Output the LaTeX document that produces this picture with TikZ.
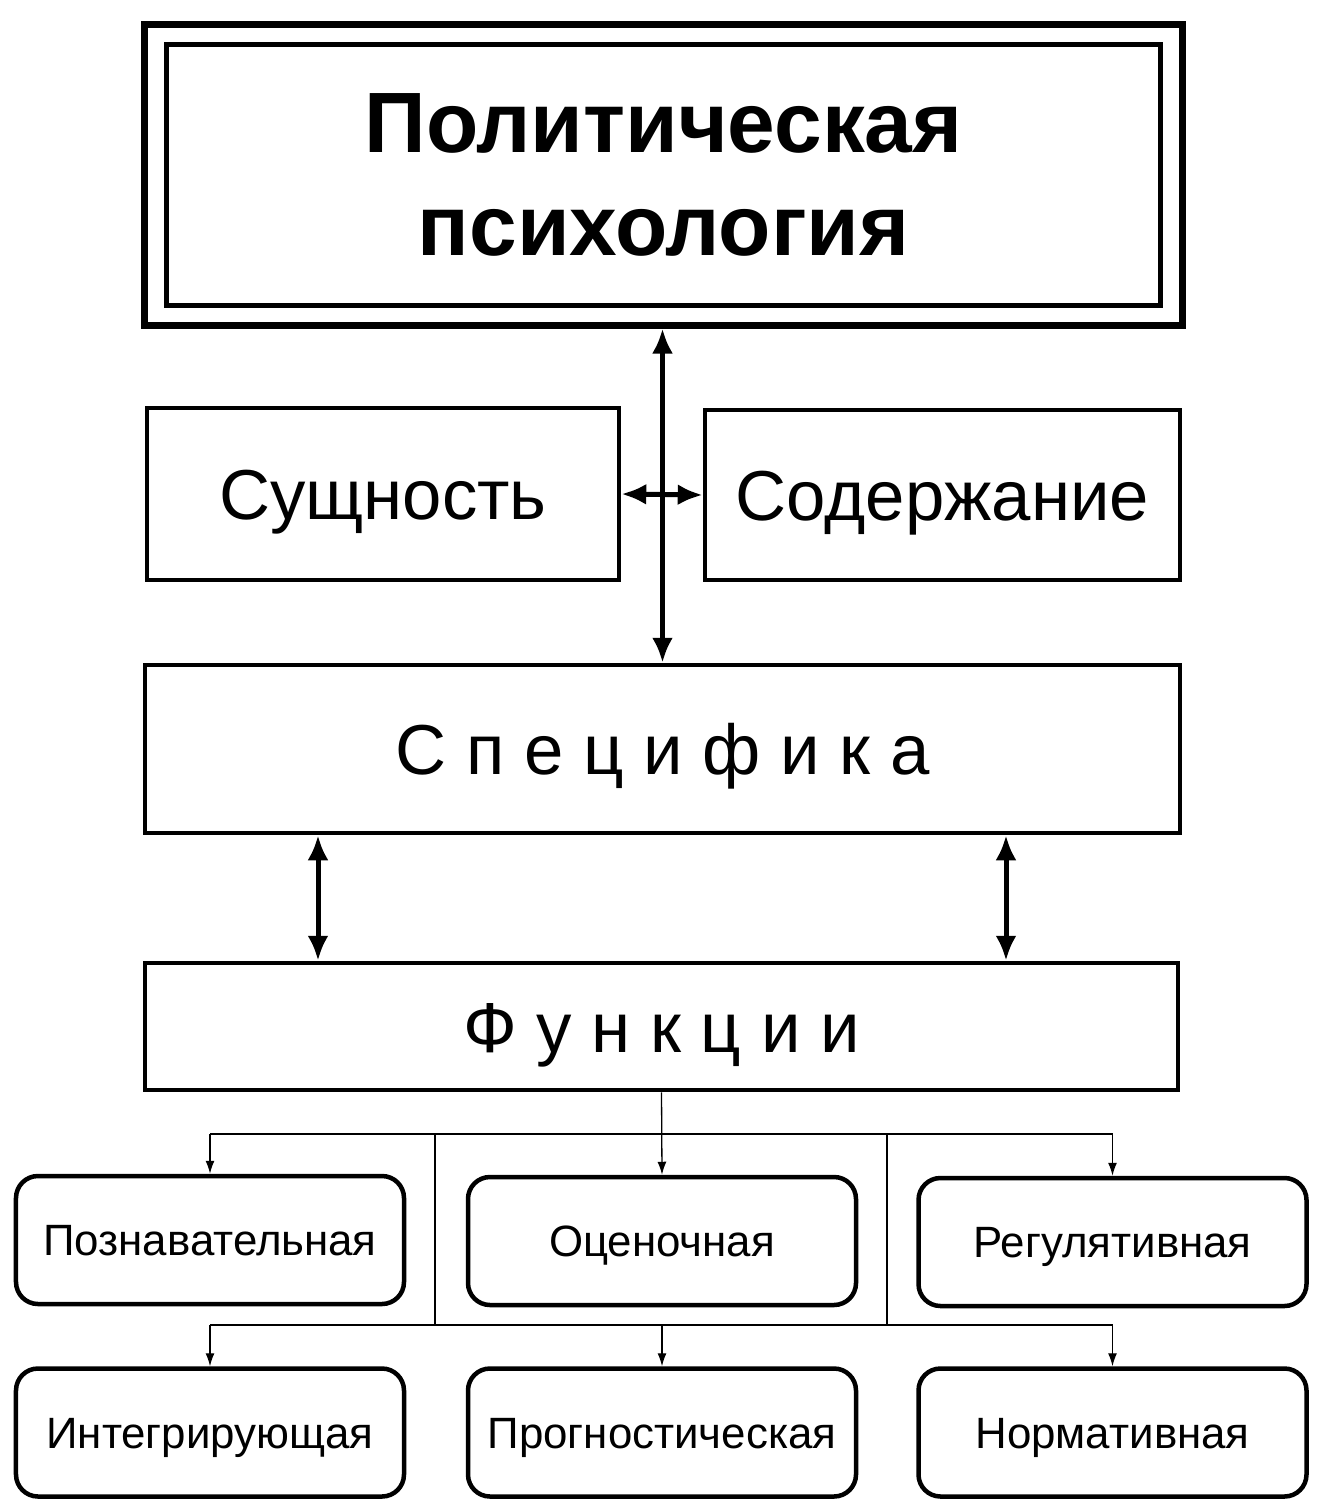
\documentclass[tikz,border=0pt]{standalone}
\usepackage{fontspec}
\setmainfont{Liberation Sans}
\usetikzlibrary{arrows.meta}
\tikzset{
  sqbox/.style={draw, line width=4.5bp, rectangle, inner sep=0pt, text height=51bp, text depth=0bp, font=\fontsize{71}{80}\selectfont},
  rbox/.style={draw, line width=4.5bp, rectangle, rounded corners=22bp, inner sep=0pt, text height=31.5bp, text depth=0bp,
     minimum width=388bp, minimum height=128bp, font=\fontsize{44}{50}\selectfont},
  bigarr/.style={line width=5bp, {Latex[length=25bp,width=21bp]}-{Latex[length=25bp,width=21bp]}},
  thinarr/.style={line width=1.3bp, -{Latex[length=13bp,width=9bp]}},
  thinline/.style={line width=1.3bp}
}
\begin{document}
\begin{tikzpicture}[x=1bp,y=-1bp]
\useasboundingbox (0,0) rectangle (1322,1512);
% title
\node[draw, line width=7bp, inner sep=0pt, minimum width=1037bp, minimum height=300bp] (title) at (663.5,175) {};
\node[draw, line width=5bp, inner sep=0pt, minimum width=993bp, minimum height=260bp,
  align=center, font=\fontsize{86}{103}\selectfont\bfseries] (titlein) at (663.5,175) {Политическая\\психология};
% second row
\node[sqbox, minimum width=472bp, minimum height=172bp] (sush) at (383,494) {Сущность};
\node[sqbox, minimum width=475bp, minimum height=170bp] (sod) at (942.5,495) {Содержание};
\node[sqbox, minimum width=1035bp, minimum height=168bp] (spec) at (662.5,749) {С п е ц и ф и к а};
\node[sqbox, minimum width=1033bp, minimum height=127bp] (fun) at (661.5,1026.5) {Ф у н к ц и и};
% function boxes
\node[rbox] (pozn) at (210,1240) {Познавательная};
\node[rbox] (ocen) at (662,1241) {Оценочная};
\node[rbox] (regul) at (1112.5,1242) {Регулятивная};
\node[rbox] (integ) at (210,1432.5) {Интегрирующая};
\node[rbox] (progn) at (662,1432.5) {Прогностическая};
\node[rbox] (norm) at (1112.5,1432.5) {Нормативная};
% thick arrows
\draw[bigarr] (title.south -| spec.north) -- (spec.north);
\draw[bigarr] (sush.east) -- (sod.west);
\coordinate (lx) at (318,0);
\coordinate (rx) at (1006,0);
\draw[bigarr] (spec.south -| lx) -- (fun.north -| lx);
\draw[bigarr] (spec.south -| rx) -- (fun.north -| rx);
% thin bus
\coordinate (busA) at (661,1134);
\coordinate (busB) at (661,1325);
\coordinate (vl) at (435,0);
\coordinate (vr) at (887,0);
\draw[thinarr] (fun.south) -- (ocen.north);
\draw[thinline] (busA -| pozn.north) -- (busA -| regul.north);
\draw[thinarr] (busA -| pozn.north) -- (pozn.north);
\draw[thinarr] (busA -| regul.north) -- (regul.north);
\draw[thinline] (busA -| vl) -- (busB -| vl);
\draw[thinline] (busA -| vr) -- (busB -| vr);
\draw[thinline] (busB -| integ.north) -- (busB -| norm.north);
\draw[thinarr] (busB -| integ.north) -- (integ.north);
\draw[thinarr] (busB -| progn.north) -- (progn.north);
\draw[thinarr] (busB -| norm.north) -- (norm.north);
\end{tikzpicture}
\end{document}
